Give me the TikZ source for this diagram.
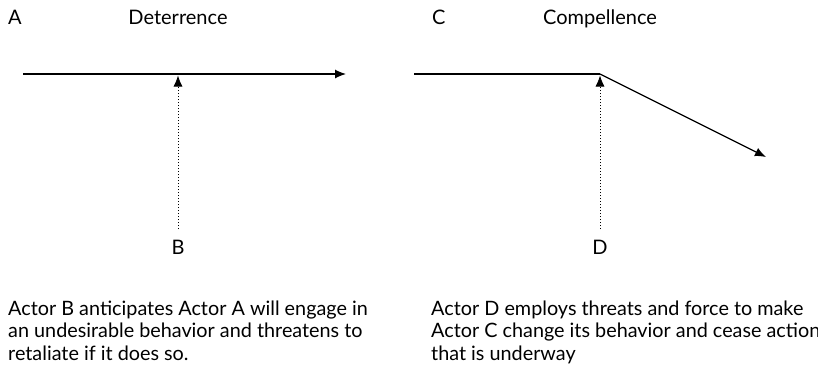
\documentclass[tikz,border=0pt]{standalone}
\usepackage{fontspec}
\setmainfont{Lato}
\usetikzlibrary{arrows.meta}
\begin{document}
\begin{tikzpicture}[x=1pt,y=-1pt,
  every node/.style={inner sep=0pt},
  title/.style={font=\fontsize{20}{24}\selectfont, anchor=base},
  actor/.style={font=\fontsize{20}{24}\selectfont, anchor=base},
  caption/.style={font=\fontsize{19.8}{22.5}\selectfont, anchor=base west, align=left},
  action/.style={line width=1.2pt, -{Latex[length=11pt,width=9pt]}},
  plain/.style={line width=1.2pt},
  threat/.style={line width=0.8pt, dash pattern=on 1pt off 2pt, -{Latex[length=11pt,width=9pt]}}]
\useasboundingbox (0,0) rectangle (818,373);
% Deterrence panel
\node[actor, anchor=base west] (A) at (8,24) {A};
\node[title] (dt) at (178,24) {Deterrence};
\coordinate (a0) at (23,74);
\coordinate (a1) at (178,74);
\coordinate (a2) at (346,74);
\draw[action] (a0) -- (a2);
\node[actor] (B) at (178,254) {B};
\coordinate (b0) at (178,229);
\draw[threat] (b0) -- (178,75.5);
\node[caption] (capL) at (8,360) {Actor B anticipates Actor A will engage in\\an undesirable behavior and threatens to\\retaliate if it does so.};
% Compellence panel
\node[actor, anchor=base west] (C) at (432,24) {C};
\node[title] (ct) at (600,24) {Compellence};
\coordinate (c0) at (414,74);
\coordinate (c1) at (600,74);
\coordinate (c2) at (766,157);
\draw[plain] (c0) -- (c1);
\draw[action] (c1) -- (c2);
\node[actor] (D) at (600,254) {D};
\coordinate (d0) at (600,229);
\draw[threat] (d0) -- (600,75.5);
\node[caption] (capR) at (431,360) {Actor D employs threats and force to make\\Actor C change its behavior and cease action\\that is underway};
\end{tikzpicture}
\end{document}
